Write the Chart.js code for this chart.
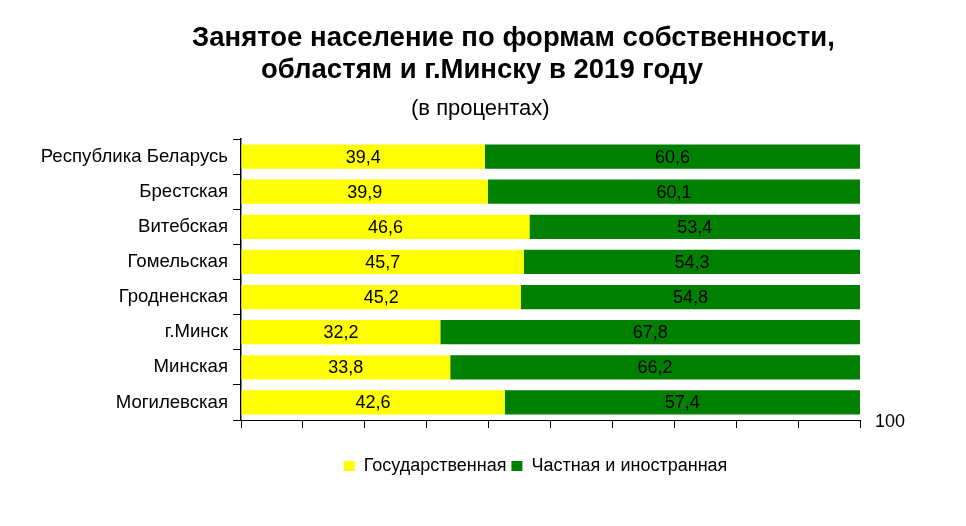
<!DOCTYPE html>
<html>
<head>
<meta charset="utf-8">
<script src="https://cdn.jsdelivr.net/npm/chart.js@4.4.0/dist/chart.umd.min.js"></script>
<style>
  html, body { margin: 0; padding: 0; background: #fff; }
  #wrap { position: relative; width: 966px; height: 526px; }
  .ttl { position: absolute; font-family: "Liberation Sans", Arial, sans-serif; color: #000; white-space: nowrap; line-height: 1; }
  #t1 { left: 192px; top: 23px; font-size: 27.5px; font-weight: bold; }
  #t2 { left: 261px; top: 55px; font-size: 27.5px; font-weight: bold; }
  #t3 { left: 411px; top: 97px; font-size: 22px; }
  canvas { position: absolute; left: 0; top: 0; }
</style>
</head>
<body>
<div id="wrap">
  <canvas id="chart" width="966" height="526"></canvas>
  <div class="ttl" id="t1">Занятое население по формам собственности,</div>
  <div class="ttl" id="t2">областям и г.Минску в 2019 году</div>
  <div class="ttl" id="t3">(в процентах)</div>
</div>
<script>
// Данные диаграммы
const regions = ["Республика Беларусь", "Брестская", "Витебская", "Гомельская", "Гродненская", "г.Минск", "Минская", "Могилевская"];
const gosValues = [39.4, 39.9, 46.6, 45.7, 45.2, 32.2, 33.8, 42.6];
const chastValues = [60.6, 60.1, 53.4, 54.3, 54.8, 67.8, 66.2, 57.4];
const seriesNames = ["Государственная", "Частная и иностранная"];
const axisMax = 100;
const axisStep = 10;

const FONT = "'Liberation Sans', Arial, sans-serif";

// подписи значений внутри столбиков
const valueLabels = {
  id: "valueLabels",
  afterDatasetsDraw(chart) {
    const ctx = chart.ctx;
    ctx.save();
    ctx.font = "18px " + FONT;
    ctx.fillStyle = "#000";
    ctx.textAlign = "center";
    ctx.textBaseline = "middle";
    chart.data.datasets.forEach((ds, i) => {
      chart.getDatasetMeta(i).data.forEach((bar, j) => {
        const cx = (bar.x + bar.base) / 2;
        ctx.fillText(ds.data[j].toFixed(1).replace(".", ","), cx, bar.y + 1);
      });
    });
    ctx.restore();
  }
};

// подпись "100" справа от оси
const maxLabel = {
  id: "maxLabel",
  afterDraw(chart) {
    const x = chart.scales.x;
    const ctx = chart.ctx;
    ctx.save();
    ctx.font = "18px " + FONT;
    ctx.fillStyle = "#000";
    ctx.textAlign = "left";
    ctx.textBaseline = "middle";
    ctx.fillText(String(axisMax), x.getPixelForValue(axisMax) + 15, x.top + 2);
    ctx.restore();
  }
};

// легенда чуть левее центра области построения
const legendShift = {
  id: "legendShift",
  afterLayout(chart) {
    chart.legend.left -= 15;
    chart.legend.right -= 15;
  }
};

new Chart(document.getElementById("chart"), {
  type: "bar",
  data: {
    labels: regions,
    datasets: [
      { label: seriesNames[0], data: gosValues, backgroundColor: "#ffff00" },
      { label: seriesNames[1], data: chastValues, backgroundColor: "#008000" }
    ]
  },
  options: {
    indexAxis: "y",
    responsive: false,
    animation: false,
    layout: { padding: { top: 139, right: 106, bottom: 41, left: 0 } },
    categoryPercentage: 1,
    barPercentage: 0.69,
    plugins: {
      title: { display: false },
      tooltip: { enabled: false },
      legend: {
        position: "bottom",
        fullSize: false,
        labels: {
          font: { family: FONT, size: 18 },
          color: "#000",
          boxWidth: 11,
          boxHeight: 10,
          padding: 5
        }
      }
    },
    scales: {
      x: {
        stacked: true,
        min: 0,
        max: axisMax,
        ticks: { stepSize: axisStep, display: false },
        grid: { drawOnChartArea: false, tickLength: 8, color: "#000" },
        border: { color: "#000", width: 1 },
        afterFit(scale) { scale.height = 32; }
      },
      y: {
        stacked: true,
        ticks: { font: { family: FONT, size: 18.6 }, color: "#000", padding: 5 },
        grid: { offset: true, drawOnChartArea: false, tickLength: 8, color: "#000" },
        border: { color: "#000", width: 1.5 },
        afterFit(scale) { scale.width = 241; }
      }
    }
  },
  plugins: [valueLabels, maxLabel, legendShift]
});
</script>
</body>
</html>
